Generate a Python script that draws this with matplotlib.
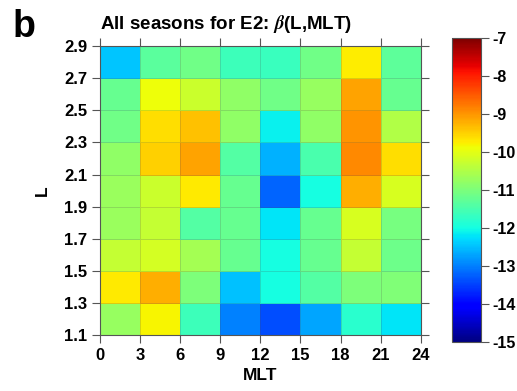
import numpy as np
import matplotlib
matplotlib.use('Agg')
import matplotlib.pyplot as plt

# MLT bin edges (hours) and L bin edges
mlt_edges = [0, 3, 6, 9, 12, 15, 18, 21, 24]
l_edges = [1.1, 1.3, 1.5, 1.7, 1.9, 2.1, 2.3, 2.5, 2.7, 2.9]

# beta(L, MLT), rows from L=1.2 (bottom) up to L=2.8 (top)
beta = [
    [-10.75, -9.8, -11.6, -13.0, -13.4, -12.7, -11.8, -12.2],   # 1.2
    [-9.7, -9.2, -11.0, -12.5, -12.0, -11.4, -11.0, -10.95],    # 1.4
    [-10.3, -10.15, -10.6, -11.2, -12.0, -11.2, -10.3, -11.15], # 1.6
    [-10.7, -10.3, -11.4, -11.2, -12.2, -11.2, -10.1, -11.05],  # 1.8
    [-10.7, -10.25, -9.7, -11.2, -13.2, -12.0, -9.2, -10.1],    # 2.0
    [-10.8, -9.5, -9.1, -11.4, -12.6, -11.5, -8.9, -9.6],       # 2.2
    [-11.1, -9.6, -9.36, -10.8, -12.1, -10.8, -9.0, -10.5],     # 2.4
    [-11.2, -9.9, -10.24, -10.8, -11.1, -10.75, -9.1, -11.2],   # 2.6
    [-12.44, -11.33, -11.1, -11.6, -11.65, -11.1, -9.74, -11.3],# 2.8
]
cbar_ticks = [-7, -8, -9, -10, -11, -12, -13, -14, -15]

plt.rcParams['font.family'] = ['Liberation Sans', 'DejaVu Sans']
plt.rcParams['font.weight'] = 'bold'
plt.rcParams['mathtext.fontset'] = 'stix'

fig = plt.figure(figsize=(5.17, 3.91), dpi=100)
ax = fig.add_axes([0.193, 0.143, 0.621, 0.739])

mesh = ax.pcolormesh(mlt_edges, l_edges, np.array(beta), cmap='jet',
                     vmin=-15, vmax=-7, edgecolors=(0.3, 0.3, 0.3, 0.2),
                     linewidth=0.6)
ax.set_xlim(0, 24)
ax.set_ylim(1.1, 2.9)
ax.set_xticks(mlt_edges)
ax.set_yticks(l_edges)
ax.set_yticklabels([f"{v:.1f}" for v in l_edges])
ax.tick_params(direction='out', length=6, width=0.8, color='#555555',
               labelsize=12, top=True, right=True, pad=3)
for lab in ax.get_xticklabels() + ax.get_yticklabels():
    lab.set_fontweight('bold')
for s in ax.spines.values():
    s.set_color('#555555')
    s.set_linewidth(0.8)

ax.set_xlabel('MLT', fontsize=12.5, fontweight='bold', labelpad=4)
ax.set_ylabel('L', fontsize=12.5, fontweight='bold', labelpad=10)
ax.set_title(r'All seasons for E2: $\beta$(L,MLT)', fontsize=13.5,
             fontweight='bold', pad=12, loc='left')
fig.text(0.025, 0.905, 'b', fontsize=27, fontweight='bold')

cax = fig.add_axes([0.874, 0.125, 0.056, 0.777])
cb = fig.colorbar(mesh, cax=cax, ticks=cbar_ticks)
cb.outline.set_edgecolor('#555555')
cax.tick_params(direction='out', length=6, color='#555555', labelsize=11.5,
                pad=2)
cax.set_yticklabels([str(t) for t in cbar_ticks], fontweight='bold')

fig.savefig('out.png', dpi=100, facecolor='white')
